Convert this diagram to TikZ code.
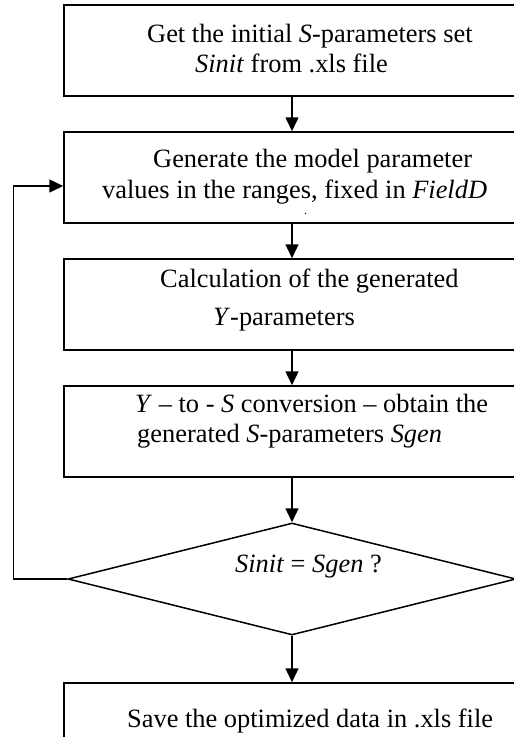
\documentclass[tikz,border=0pt]{standalone}
\usepackage{fontspec}
\setmainfont{Liberation Serif}
\usetikzlibrary{shapes.geometric,arrows.meta}
\begin{document}
\begin{tikzpicture}[x=1pt,y=-1pt,
  stepbox/.style={draw,line width=1.5pt,minimum width=456pt,minimum height=91pt,inner sep=0pt},
  decision/.style={draw,diamond,line width=1.5pt,minimum width=448pt,minimum height=112pt,aspect=4,inner sep=0pt},
  linetext/.style={anchor=base west,inner sep=0pt,font=\fontsize{26.4}{31}\selectfont},
  flow/.style={line width=1.5pt,-{Triangle[length=14pt,width=13pt]}}
]
\useasboundingbox (0,0) rectangle (514,737);
\clip (0,0) rectangle (514,737);

% process boxes and the decision
\node[stepbox] (b1) at (292,50.5) {};
\node[stepbox] (b2) at (292,177.5) {};
\node[stepbox] (b3) at (292,304.5) {};
\node[stepbox] (b4) at (292,431.5) {};
\node[decision] (d) at (292,579) {};
\node[stepbox] (b5) at (292,728.5) {};

% box texts, line by line
\node[linetext] (t1a) at (147,42) {Get the initial \textit{S}-parameters set};
\node[linetext] (t1b) at (195,72) {\textit{Sinit} from .xls file};
\node[linetext] (t2a) at (153,167) {Generate the model parameter};
\node[linetext] (t2b) at (102,198) {values in the ranges, fixed in \textit{FieldD}};
\node[linetext,font=\fontsize{12}{14}\selectfont] (t2c) at (304,214) {.};
\node[linetext] (t3a) at (160,287) {Calculation of the generated};
\node[linetext] (t3b) at (213,325) {\textit{Y}-parameters};
\node[linetext] (t4a) at (135,412) {\textit{Y} – to - \textit{S} conversion – obtain the};
\node[linetext] (t4b) at (137,442) {generated \textit{S}-parameters \textit{Sgen}};
\node[linetext] (t5) at (235,572) {\textit{Sinit} = \textit{Sgen} ?};
\node[linetext] (t6) at (127,727) {Save the optimized data in .xls file};

% connectors
\draw[flow] (b1.south) -- (b2.north);
\draw[flow] (b2.south) -- (b3.north);
\draw[flow] (b3.south) -- (b4.north);
\draw[flow] (b4.south) -- (d.north);
\draw[flow] (d.south) -- (b5.north);
\draw[flow] (d.west) -- ++(-54,0) |- ([yshift=-8.5pt]b2.west);
\end{tikzpicture}
\end{document}
